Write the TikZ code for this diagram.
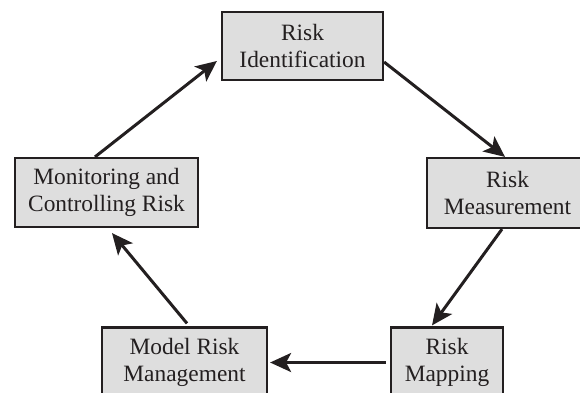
\documentclass[tikz,border=0pt]{standalone}
\usepackage{fontspec}
\setmainfont{Liberation Serif}
\usetikzlibrary{arrows.meta,calc}
\definecolor{boxfill}{HTML}{DEDEDE}
\definecolor{ink}{HTML}{231F20}
\begin{document}
\begin{tikzpicture}[x=1pt,y=-1pt,
  stagebox/.style={draw=ink, line width=2.2pt, fill=boxfill, text=ink,
    inner sep=0pt, align=center, font=\fontsize{23.4}{27}\selectfont},
  arr/.style={draw=ink, line width=3pt, -{Stealth[length=21pt 0,width=19pt 0,inset=5pt 0]}}]
\useasboundingbox (0,0) rectangle (580,392);
\clip (0,0) rectangle (580,392);
\node[stagebox, minimum width=161pt, minimum height=68pt] (id) at (302.5,46) {Risk\\Identification};
\node[stagebox, minimum width=161pt, minimum height=70pt] (meas) at (507.5,193) {Risk\\Measurement};
\node[stagebox, minimum width=112pt, minimum height=70pt] (map) at (447,362.5) {Risk\\Mapping};
\node[stagebox, minimum width=165pt, minimum height=70pt] (model) at (184.5,362.5) {Model Risk\\Management};
\node[stagebox, minimum width=183pt, minimum height=69pt] (mon) at (106.5,192.5) {Monitoring and\\Controlling Risk};
\draw[arr] ($(id.east)+(0,16)$) -- ($(meas.north)+(-2.5,0)$);
\draw[arr] ($(meas.south)+(-5.5,0)$) -- ($(map.north)+(-15,-1)$);
\draw[arr] ($(map.west)+(-4,0)$) -- ($(model.east)+(2,0)$);
\draw[arr] ($(model.north)+(2.5,-3)$) -- ($(mon.south)+(5.5,5)$);
\draw[arr] ($(mon.north)+(-11.5,0)$) -- ($(id.west)+(-4,15)$);
\end{tikzpicture}
\end{document}
